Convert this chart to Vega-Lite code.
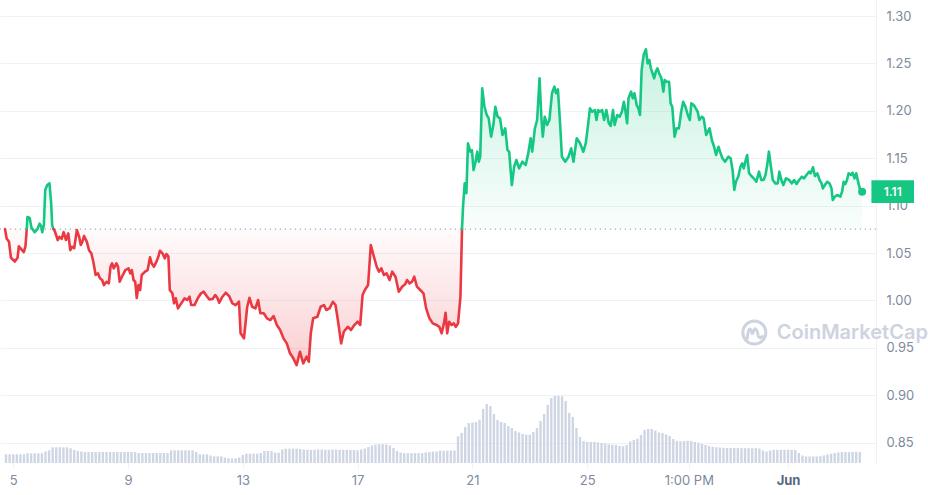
{
"$schema":"https://vega.github.io/schema/vega-lite/v6.json",
"width":876,"height":463,
"autosize":{"type":"none"},
"padding":{"left":0,"top":0,"right":52,"bottom":32},
"background":"#ffffff",
"config":{"view":{"stroke":null},"font":"Inter"},
"datasets":{
"vol":[
{"t":4.75,"v":8.7},{"t":4.875,"v":8.7},{"t":5,"v":8.7},{"t":5.125,"v":8.7},{"t":5.25,"v":8.7},{"t":5.375,"v":8.7},{"t":5.5,"v":9.7},{"t":5.625,"v":9.7},{"t":5.75,"v":9.7},{"t":5.875,"v":9.7},
{"t":6,"v":9.7},{"t":6.125,"v":11.5},{"t":6.25,"v":12.7},{"t":6.375,"v":15.7},{"t":6.5,"v":15.7},{"t":6.625,"v":15.7},{"t":6.75,"v":15.7},{"t":6.875,"v":15.7},
{"t":7,"v":14.7},{"t":7.125,"v":13},{"t":7.25,"v":12},{"t":7.375,"v":11.5},{"t":7.5,"v":11},{"t":7.625,"v":11},{"t":7.75,"v":11},{"t":7.875,"v":11},
{"t":8,"v":11},{"t":8.125,"v":11},{"t":8.25,"v":11},{"t":8.375,"v":11},{"t":8.5,"v":11},{"t":8.625,"v":11},{"t":8.75,"v":11},{"t":8.875,"v":11},
{"t":9,"v":11},{"t":9.125,"v":11},{"t":9.25,"v":11},{"t":9.375,"v":10},{"t":9.5,"v":10},{"t":9.625,"v":10},{"t":9.75,"v":10},{"t":9.875,"v":10},
{"t":10,"v":10},{"t":10.125,"v":10},{"t":10.25,"v":10},{"t":10.375,"v":10},{"t":10.5,"v":12.7},{"t":10.625,"v":12.7},{"t":10.75,"v":12.7},{"t":10.875,"v":12.7},
{"t":11,"v":12.7},{"t":11.125,"v":12.7},{"t":11.25,"v":12.7},{"t":11.375,"v":11},{"t":11.5,"v":8.7},{"t":11.625,"v":8.7},{"t":11.75,"v":8.7},{"t":11.875,"v":7.5},
{"t":12,"v":6.7},{"t":12.125,"v":6.7},{"t":12.25,"v":6.7},{"t":12.375,"v":5.5},{"t":12.5,"v":4.7},{"t":12.625,"v":4.7},{"t":12.75,"v":4.7},{"t":12.875,"v":5.5},
{"t":13,"v":8},{"t":13.125,"v":9.3},{"t":13.25,"v":9.3},{"t":13.375,"v":9.3},{"t":13.5,"v":9.3},{"t":13.625,"v":10},{"t":13.75,"v":12},{"t":13.875,"v":12},
{"t":14,"v":12},{"t":14.125,"v":10.3},{"t":14.25,"v":10.3},{"t":14.375,"v":13.5},{"t":14.5,"v":14.3},{"t":14.625,"v":14.3},{"t":14.75,"v":14.3},{"t":14.875,"v":14.3},
{"t":15,"v":14},{"t":15.125,"v":13.5},{"t":15.25,"v":13.2},{"t":15.375,"v":13.2},{"t":15.5,"v":13.2},{"t":15.625,"v":13.5},{"t":15.75,"v":13.5},{"t":15.875,"v":13.2},
{"t":16,"v":13.2},{"t":16.125,"v":13.5},{"t":16.25,"v":13.5},{"t":16.375,"v":13.2},{"t":16.5,"v":13.2},{"t":16.625,"v":13.2},{"t":16.75,"v":13},{"t":16.875,"v":13},
{"t":17,"v":12.7},{"t":17.125,"v":13.5},{"t":17.25,"v":14.5},{"t":17.375,"v":16},{"t":17.5,"v":17.5},{"t":17.625,"v":18.3},{"t":17.75,"v":18.8},{"t":17.875,"v":18.8},
{"t":18,"v":18.5},{"t":18.125,"v":17.5},{"t":18.25,"v":15},{"t":18.375,"v":12},{"t":18.5,"v":10.5},{"t":18.625,"v":9.9},{"t":18.75,"v":9.9},{"t":18.875,"v":9.9},
{"t":19,"v":9.9},{"t":19.125,"v":9.9},{"t":19.25,"v":9.9},{"t":19.375,"v":10.5},{"t":19.5,"v":11},{"t":19.625,"v":11.5},{"t":19.75,"v":11.5},{"t":19.875,"v":12.3},
{"t":20,"v":12.3},{"t":20.125,"v":12.3},{"t":20.25,"v":12.5},{"t":20.375,"v":12.5},{"t":20.5,"v":26.7},{"t":20.625,"v":30},{"t":20.75,"v":36},{"t":20.875,"v":40},
{"t":21,"v":40.5},{"t":21.125,"v":41},{"t":21.25,"v":43.3},{"t":21.375,"v":54},{"t":21.5,"v":59},{"t":21.625,"v":57},{"t":21.75,"v":49},{"t":21.875,"v":43},
{"t":22,"v":41},{"t":22.125,"v":40},{"t":22.25,"v":37},{"t":22.375,"v":35},{"t":22.5,"v":32},{"t":22.625,"v":30.5},{"t":22.75,"v":29},{"t":22.875,"v":28.3},
{"t":23,"v":28.3},{"t":23.125,"v":31},{"t":23.25,"v":35},{"t":23.375,"v":42},{"t":23.5,"v":49},{"t":23.625,"v":58},{"t":23.75,"v":65},{"t":23.875,"v":67},
{"t":24,"v":67},{"t":24.125,"v":66.7},{"t":24.25,"v":62},{"t":24.375,"v":50},{"t":24.5,"v":46},{"t":24.625,"v":35},{"t":24.75,"v":26},{"t":24.875,"v":22},
{"t":25,"v":21},{"t":25.125,"v":21},{"t":25.25,"v":21},{"t":25.375,"v":20.5},{"t":25.5,"v":20},{"t":25.625,"v":19.5},{"t":25.75,"v":18.7},{"t":25.875,"v":18.3},
{"t":26,"v":18.3},{"t":26.125,"v":17},{"t":26.25,"v":16.7},{"t":26.375,"v":18},{"t":26.5,"v":21.5},{"t":26.625,"v":23},{"t":26.75,"v":24.3},{"t":26.875,"v":28},
{"t":27,"v":33},{"t":27.125,"v":34},{"t":27.25,"v":34},{"t":27.375,"v":32.5},{"t":27.5,"v":30.5},{"t":27.625,"v":30},{"t":27.75,"v":28.5},{"t":27.875,"v":27},
{"t":28,"v":24},{"t":28.125,"v":22},{"t":28.25,"v":21.7},{"t":28.375,"v":22},{"t":28.5,"v":22.3},{"t":28.625,"v":22},{"t":28.75,"v":21},{"t":28.875,"v":20.3},
{"t":29,"v":19},{"t":29.125,"v":18},{"t":29.25,"v":17},{"t":29.375,"v":16},{"t":29.5,"v":15.7},{"t":29.625,"v":15.5},{"t":29.75,"v":15.2},{"t":29.875,"v":15},
{"t":30,"v":15},{"t":30.125,"v":15},{"t":30.25,"v":15},{"t":30.375,"v":14.8},{"t":30.5,"v":14.8},{"t":30.625,"v":14.8},{"t":30.75,"v":14.8},{"t":30.875,"v":14.8},
{"t":31,"v":14.5},{"t":31.125,"v":12.5},{"t":31.25,"v":11.5},{"t":31.375,"v":12.5},{"t":31.5,"v":13.2},{"t":31.625,"v":13.2},{"t":31.75,"v":13.2},{"t":31.875,"v":13.2},
{"t":32,"v":13.2},{"t":32.125,"v":13.2},{"t":32.25,"v":13},{"t":32.375,"v":10},{"t":32.5,"v":7.5},{"t":32.625,"v":6.6},{"t":32.75,"v":6.6},{"t":32.875,"v":6.6},
{"t":33,"v":6.6},{"t":33.125,"v":6.8},{"t":33.25,"v":7.5},{"t":33.375,"v":8.5},{"t":33.5,"v":9.2},{"t":33.625,"v":10},{"t":33.75,"v":10.5},{"t":33.875,"v":10.9},
{"t":34,"v":10.9},{"t":34.125,"v":10.9},{"t":34.25,"v":11},{"t":34.375,"v":11.2},{"t":34.5,"v":11}
],
"price":[
{"t":4.714,"p":1.0753,"s":1},{"t":4.773,"p":1.065,"s":1},{"t":4.852,"p":1.062,"s":1},{"t":4.921,"p":1.045,"s":1},{"t":5.058,"p":1.041,"s":1},{"t":5.152,"p":1.045,"s":1},{"t":5.196,"p":1.057,"s":1},{"t":5.31,"p":1.053,"s":1},{"t":5.369,"p":1.051,"s":1},{"t":5.427,"p":1.057,"s":1},{"t":5.472,"p":1.0753,"s":1},
{"t":5.472,"p":1.0753,"s":2},{"t":5.496,"p":1.088,"s":2},{"t":5.575,"p":1.087,"s":2},{"t":5.634,"p":1.077,"s":2},{"t":5.748,"p":1.072,"s":2},{"t":5.84,"p":1.075,"s":2},{"t":5.92,"p":1.081,"s":2},{"t":5.978,"p":1.078,"s":2},{"t":6.013,"p":1.072,"s":2},{"t":6.068,"p":1.0795,"s":2},{"t":6.116,"p":1.1165,"s":2},{"t":6.185,"p":1.1217,"s":2},{"t":6.264,"p":1.1235,"s":2},{"t":6.323,"p":1.1024,"s":2},{"t":6.357,"p":1.0795,"s":2},{"t":6.402,"p":1.0753,"s":2},
{"t":6.402,"p":1.0753,"s":3},{"t":6.436,"p":1.074,"s":3},{"t":6.495,"p":1.069,"s":3},{"t":6.55,"p":1.0637,"s":3},{"t":6.609,"p":1.067,"s":3},{"t":6.688,"p":1.065,"s":3},{"t":6.757,"p":1.072,"s":3},{"t":6.839,"p":1.0637,"s":3},{"t":6.919,"p":1.0707,"s":3},{"t":6.988,"p":1.053,"s":3},
{"t":7.046,"p":1.0566,"s":3},{"t":7.125,"p":1.055,"s":3},{"t":7.218,"p":1.0743,"s":3},{"t":7.298,"p":1.067,"s":3},{"t":7.356,"p":1.0584,"s":3},{"t":7.411,"p":1.062,"s":3},{"t":7.47,"p":1.068,"s":3},{"t":7.563,"p":1.062,"s":3},{"t":7.642,"p":1.053,"s":3},{"t":7.721,"p":1.0497,"s":3},
{"t":7.79,"p":1.041,"s":3},{"t":7.873,"p":1.0268,"s":3},{"t":7.952,"p":1.0286,"s":3},{"t":8.021,"p":1.0233,"s":3},{"t":8.1,"p":1.0215,"s":3},{"t":8.159,"p":1.0162,"s":3},{"t":8.252,"p":1.0197,"s":3},{"t":8.331,"p":1.018,"s":3},{"t":8.39,"p":1.0355,"s":3},{"t":8.445,"p":1.0391,"s":3},
{"t":8.503,"p":1.0338,"s":3},{"t":8.596,"p":1.0391,"s":3},{"t":8.651,"p":1.0355,"s":3},{"t":8.71,"p":1.0197,"s":3},{"t":8.789,"p":1.025,"s":3},{"t":8.906,"p":1.032,"s":3},{"t":9.02,"p":1.0338,"s":3},{"t":9.079,"p":1.0286,"s":3},{"t":9.134,"p":1.032,"s":3},{"t":9.192,"p":1.0215,"s":3},
{"t":9.251,"p":1.0197,"s":3},{"t":9.306,"p":1.0025,"s":3},{"t":9.364,"p":1.0162,"s":3},{"t":9.423,"p":1.011,"s":3},{"t":9.478,"p":1.0268,"s":3},{"t":9.595,"p":1.0303,"s":3},{"t":9.685,"p":1.032,"s":3},{"t":9.767,"p":1.0455,"s":3},{"t":9.823,"p":1.0391,"s":3},{"t":9.905,"p":1.0355,"s":3},
{"t":9.974,"p":1.0398,"s":3},{"t":10.053,"p":1.0455,"s":3},{"t":10.112,"p":1.0524,"s":3},{"t":10.202,"p":1.0497,"s":3},{"t":10.284,"p":1.0444,"s":3},{"t":10.339,"p":1.049,"s":3},{"t":10.408,"p":1.0462,"s":3},{"t":10.456,"p":1.011,"s":3},{"t":10.546,"p":1.0075,"s":3},{"t":10.604,"p":0.9969,"s":3},
{"t":10.663,"p":1.0022,"s":3},{"t":10.742,"p":0.9916,"s":3},{"t":10.856,"p":0.9969,"s":3},{"t":10.973,"p":1.0022,"s":3},{"t":11.063,"p":1.0004,"s":3},{"t":11.145,"p":1.0039,"s":3},{"t":11.2,"p":0.9951,"s":3},{"t":11.317,"p":0.9951,"s":3},{"t":11.431,"p":1.0022,"s":3},{"t":11.545,"p":1.0075,"s":3},
{"t":11.638,"p":1.0092,"s":3},{"t":11.741,"p":1.0046,"s":3},{"t":11.834,"p":1.0011,"s":3},{"t":11.948,"p":1.0015,"s":3},{"t":12.041,"p":1.0057,"s":3},{"t":12.12,"p":1.0022,"s":3},{"t":12.179,"p":0.9976,"s":3},{"t":12.292,"p":1.0039,"s":3},{"t":12.406,"p":1.0081,"s":3},{"t":12.523,"p":1.0046,"s":3},
{"t":12.637,"p":0.9969,"s":3},{"t":12.751,"p":0.9951,"s":3},{"t":12.868,"p":0.9986,"s":3},{"t":12.923,"p":0.9653,"s":3},{"t":13.04,"p":0.96,"s":3},{"t":13.154,"p":0.9933,"s":3},{"t":13.233,"p":1.0028,"s":3},{"t":13.326,"p":0.9933,"s":3},{"t":13.44,"p":0.9916,"s":3},{"t":13.533,"p":1.0004,"s":3},
{"t":13.612,"p":0.9864,"s":3},{"t":13.729,"p":0.9864,"s":3},{"t":13.843,"p":0.9811,"s":3},{"t":13.956,"p":0.9793,"s":3},{"t":14.073,"p":0.9835,"s":3},{"t":14.187,"p":0.974,"s":3},{"t":14.301,"p":0.9688,"s":3},{"t":14.418,"p":0.96,"s":3},{"t":14.532,"p":0.9547,"s":3},{"t":14.645,"p":0.9442,"s":3},
{"t":14.762,"p":0.9389,"s":3},{"t":14.876,"p":0.9318,"s":3},{"t":14.99,"p":0.9459,"s":3},{"t":15.107,"p":0.9336,"s":3},{"t":15.221,"p":0.9406,"s":3},{"t":15.3,"p":0.9353,"s":3},{"t":15.369,"p":0.9653,"s":3},{"t":15.451,"p":0.9811,"s":3},{"t":15.6,"p":0.9828,"s":3},{"t":15.713,"p":0.9933,"s":3},
{"t":15.83,"p":0.9951,"s":3},{"t":15.91,"p":0.9899,"s":3},{"t":16.023,"p":0.9916,"s":3},{"t":16.14,"p":0.9986,"s":3},{"t":16.23,"p":0.9951,"s":3},{"t":16.313,"p":0.9793,"s":3},{"t":16.426,"p":0.9547,"s":3},{"t":16.519,"p":0.967,"s":3},{"t":16.657,"p":0.9722,"s":3},{"t":16.771,"p":0.9688,"s":3},
{"t":16.885,"p":0.974,"s":3},{"t":17.002,"p":0.9775,"s":3},{"t":17.091,"p":0.974,"s":3},{"t":17.174,"p":1.0057,"s":3},{"t":17.253,"p":1.011,"s":3},{"t":17.366,"p":1.0162,"s":3},{"t":17.46,"p":1.0584,"s":3},{"t":17.553,"p":1.0479,"s":3},{"t":17.666,"p":1.0355,"s":3},{"t":17.746,"p":1.0303,"s":3},
{"t":17.828,"p":1.0338,"s":3},{"t":17.918,"p":1.0268,"s":3},{"t":18.011,"p":1.0286,"s":3},{"t":18.114,"p":1.0215,"s":3},{"t":18.207,"p":1.0303,"s":3},{"t":18.321,"p":1.025,"s":3},{"t":18.435,"p":1.0092,"s":3},{"t":18.552,"p":1.0145,"s":3},{"t":18.665,"p":1.0173,"s":3},{"t":18.724,"p":1.0215,"s":3},
{"t":18.813,"p":1.018,"s":3},{"t":18.896,"p":1.0197,"s":3},{"t":18.975,"p":1.025,"s":3},{"t":19.068,"p":1.0145,"s":3},{"t":19.182,"p":1.011,"s":3},{"t":19.296,"p":1.0075,"s":3},{"t":19.389,"p":0.9916,"s":3},{"t":19.503,"p":0.9811,"s":3},{"t":19.619,"p":0.9758,"s":3},{"t":19.757,"p":0.974,"s":3},
{"t":19.847,"p":0.9722,"s":3},{"t":19.93,"p":0.9653,"s":3},{"t":20.009,"p":0.9758,"s":3},{"t":20.067,"p":0.987,"s":3},{"t":20.122,"p":0.9653,"s":3},{"t":20.191,"p":0.9775,"s":3},{"t":20.274,"p":0.974,"s":3},{"t":20.353,"p":0.9758,"s":3},{"t":20.422,"p":0.9722,"s":3},{"t":20.501,"p":0.9758,"s":3},
{"t":20.584,"p":1.0039,"s":3},{"t":20.639,"p":1.0753,"s":3},
{"t":20.639,"p":1.0753,"s":4},{"t":20.674,"p":1.0988,"s":4},{"t":20.732,"p":1.1235,"s":4},{"t":20.791,"p":1.113,"s":4},{"t":20.846,"p":1.1657,"s":4},{"t":20.928,"p":1.1569,"s":4},{"t":20.984,"p":1.1586,"s":4},{"t":21.042,"p":1.1375,"s":4},{"t":21.111,"p":1.1463,"s":4},{"t":21.17,"p":1.1569,"s":4},
{"t":21.225,"p":1.1463,"s":4},{"t":21.273,"p":1.1516,"s":4},{"t":21.342,"p":1.2237,"s":4},{"t":21.421,"p":1.2043,"s":4},{"t":21.5,"p":1.1956,"s":4},{"t":21.569,"p":1.1921,"s":4},{"t":21.652,"p":1.1727,"s":4},{"t":21.731,"p":1.185,"s":4},{"t":21.8,"p":1.2043,"s":4},{"t":21.879,"p":1.1938,"s":4},
{"t":21.962,"p":1.1921,"s":4},{"t":22.051,"p":1.1745,"s":4},{"t":22.144,"p":1.1815,"s":4},{"t":22.223,"p":1.1586,"s":4},{"t":22.282,"p":1.1569,"s":4},{"t":22.375,"p":1.1217,"s":4},{"t":22.455,"p":1.141,"s":4},{"t":22.534,"p":1.1481,"s":4},{"t":22.627,"p":1.1393,"s":4},{"t":22.741,"p":1.1463,"s":4},
{"t":22.858,"p":1.1428,"s":4},{"t":22.947,"p":1.1551,"s":4},{"t":23.03,"p":1.171,"s":4},{"t":23.085,"p":1.1569,"s":4},{"t":23.178,"p":1.1815,"s":4},{"t":23.257,"p":1.1903,"s":4},{"t":23.34,"p":1.2343,"s":4},{"t":23.409,"p":1.1903,"s":4},{"t":23.454,"p":1.1727,"s":4},{"t":23.522,"p":1.1938,"s":4},
{"t":23.602,"p":1.185,"s":4},{"t":23.684,"p":1.1903,"s":4},{"t":23.774,"p":1.2185,"s":4},{"t":23.857,"p":1.2255,"s":4},{"t":23.912,"p":1.2185,"s":4},{"t":23.981,"p":1.2227,"s":4},{"t":24.063,"p":1.1832,"s":4},{"t":24.119,"p":1.1516,"s":4},{"t":24.236,"p":1.1463,"s":4},{"t":24.35,"p":1.1516,"s":4},
{"t":24.443,"p":1.1604,"s":4},{"t":24.522,"p":1.1463,"s":4},{"t":24.636,"p":1.171,"s":4},{"t":24.752,"p":1.1657,"s":4},{"t":24.866,"p":1.1569,"s":4},{"t":24.952,"p":1.166,"s":4},{"t":25.038,"p":1.1868,"s":4},{"t":25.097,"p":1.2026,"s":4},{"t":25.176,"p":1.199,"s":4},{"t":25.269,"p":1.2008,"s":4},
{"t":25.324,"p":1.1903,"s":4},{"t":25.383,"p":1.2008,"s":4},{"t":25.441,"p":1.199,"s":4},{"t":25.521,"p":1.2008,"s":4},{"t":25.59,"p":1.1903,"s":4},{"t":25.669,"p":1.2008,"s":4},{"t":25.752,"p":1.1868,"s":4},{"t":25.821,"p":1.184,"s":4},{"t":25.9,"p":1.2008,"s":4},{"t":25.958,"p":1.185,"s":4},
{"t":26.048,"p":1.1956,"s":4},{"t":26.131,"p":1.1938,"s":4},{"t":26.21,"p":1.199,"s":4},{"t":26.278,"p":1.2096,"s":4},{"t":26.337,"p":1.199,"s":4},{"t":26.392,"p":1.1868,"s":4},{"t":26.44,"p":1.2132,"s":4},{"t":26.53,"p":1.2202,"s":4},{"t":26.588,"p":1.2132,"s":4},{"t":26.647,"p":1.2185,"s":4},
{"t":26.726,"p":1.2061,"s":4},{"t":26.785,"p":1.2026,"s":4},{"t":26.84,"p":1.1956,"s":4},{"t":26.898,"p":1.243,"s":4},{"t":26.967,"p":1.2589,"s":4},{"t":27.047,"p":1.2649,"s":4},{"t":27.105,"p":1.2501,"s":4},{"t":27.164,"p":1.2536,"s":4},{"t":27.219,"p":1.2448,"s":4},{"t":27.277,"p":1.2396,"s":4},
{"t":27.336,"p":1.2343,"s":4},{"t":27.391,"p":1.2413,"s":4},{"t":27.449,"p":1.2448,"s":4},{"t":27.508,"p":1.2396,"s":4},{"t":27.587,"p":1.2343,"s":4},{"t":27.656,"p":1.2202,"s":4},{"t":27.701,"p":1.2325,"s":4},{"t":27.77,"p":1.2307,"s":4},{"t":27.853,"p":1.2307,"s":4},{"t":27.907,"p":1.2079,"s":4},
{"t":27.966,"p":1.2043,"s":4},{"t":28.045,"p":1.1727,"s":4},{"t":28.114,"p":1.1815,"s":4},{"t":28.197,"p":1.1815,"s":4},{"t":28.276,"p":1.199,"s":4},{"t":28.345,"p":1.2096,"s":4},{"t":28.424,"p":1.2043,"s":4},{"t":28.507,"p":1.1956,"s":4},{"t":28.576,"p":1.1903,"s":4},{"t":28.631,"p":1.2079,"s":4},
{"t":28.714,"p":1.2061,"s":4},{"t":28.783,"p":1.2026,"s":4},{"t":28.852,"p":1.199,"s":4},{"t":28.907,"p":1.1903,"s":4},{"t":29.0,"p":1.1938,"s":4},{"t":29.058,"p":1.192,"s":4},{"t":29.148,"p":1.1745,"s":4},{"t":29.206,"p":1.178,"s":4},{"t":29.265,"p":1.1815,"s":4},{"t":29.344,"p":1.1692,"s":4},
{"t":29.423,"p":1.1621,"s":4},{"t":29.492,"p":1.1534,"s":4},{"t":29.575,"p":1.1621,"s":4},{"t":29.63,"p":1.1569,"s":4},{"t":29.713,"p":1.1499,"s":4},{"t":29.802,"p":1.1463,"s":4},{"t":29.919,"p":1.1516,"s":4},{"t":29.998,"p":1.1499,"s":4},{"t":30.067,"p":1.1375,"s":4},{"t":30.126,"p":1.1165,"s":4},
{"t":30.181,"p":1.1252,"s":4},{"t":30.263,"p":1.1305,"s":4},{"t":30.343,"p":1.141,"s":4},{"t":30.401,"p":1.1446,"s":4},{"t":30.456,"p":1.1393,"s":4},{"t":30.525,"p":1.1481,"s":4},{"t":30.573,"p":1.1534,"s":4},{"t":30.642,"p":1.1341,"s":4},{"t":30.721,"p":1.1312,"s":4},{"t":30.801,"p":1.1288,"s":4},
{"t":30.894,"p":1.1252,"s":4},{"t":30.987,"p":1.1358,"s":4},{"t":31.066,"p":1.127,"s":4},{"t":31.145,"p":1.127,"s":4},{"t":31.214,"p":1.1323,"s":4},{"t":31.273,"p":1.1428,"s":4},{"t":31.332,"p":1.1569,"s":4},{"t":31.387,"p":1.1446,"s":4},{"t":31.469,"p":1.127,"s":4},{"t":31.559,"p":1.1235,"s":4},
{"t":31.641,"p":1.1235,"s":4},{"t":31.697,"p":1.1358,"s":4},{"t":31.766,"p":1.127,"s":4},{"t":31.835,"p":1.1217,"s":4},{"t":31.928,"p":1.1288,"s":4},{"t":32.041,"p":1.127,"s":4},{"t":32.134,"p":1.1235,"s":4},{"t":32.214,"p":1.127,"s":4},{"t":32.296,"p":1.1228,"s":4},{"t":32.386,"p":1.127,"s":4},
{"t":32.479,"p":1.1305,"s":4},{"t":32.558,"p":1.1288,"s":4},{"t":32.641,"p":1.1323,"s":4},{"t":32.73,"p":1.1358,"s":4},{"t":32.789,"p":1.134,"s":4},{"t":32.869,"p":1.1404,"s":4},{"t":32.938,"p":1.1312,"s":4},{"t":33.02,"p":1.1341,"s":4},{"t":33.099,"p":1.127,"s":4},{"t":33.168,"p":1.1235,"s":4},
{"t":33.213,"p":1.1182,"s":4},{"t":33.282,"p":1.1217,"s":4},{"t":33.365,"p":1.1252,"s":4},{"t":33.444,"p":1.1235,"s":4},{"t":33.513,"p":1.1182,"s":4},{"t":33.558,"p":1.1059,"s":4},{"t":33.627,"p":1.1094,"s":4},{"t":33.709,"p":1.1112,"s":4},{"t":33.823,"p":1.1094,"s":4},{"t":33.882,"p":1.1147,"s":4},
{"t":33.937,"p":1.1252,"s":4},{"t":33.996,"p":1.1228,"s":4},{"t":34.053,"p":1.127,"s":4},{"t":34.109,"p":1.1341,"s":4},{"t":34.192,"p":1.1323,"s":4},{"t":34.247,"p":1.1347,"s":4},{"t":34.316,"p":1.1288,"s":4},{"t":34.374,"p":1.1341,"s":4},{"t":34.454,"p":1.1235,"s":4},{"t":34.512,"p":1.1165,"s":4},
{"t":34.58,"p":1.1147,"s":4}
]
},
"layer":[
{
"data":{"name":"vol"},
"mark":{"type":"bar","orient":"vertical","width":2.4,"color":"#cfd6e3"},
"encoding":{
"x":{"field":"t","type":"quantitative","title":null,"scale":{"domain":[4.714,34.89],"nice":false,"zero":false},
"axis":{"values":[5,9,13,17,21,25,28.5417,32],"labelExpr":"datum.value==32?'Jun':(datum.value>28&&datum.value<29)?'1:00 PM':format(datum.value,'d')","grid":false,"domain":false,"ticks":true,"tickSize":5,"tickColor":"#eff2f5","labelPadding":6,"labelFont":"Inter","labelFontSize":13,"labelColor":{"condition":{"test":"datum.value==32","value":"#58667e"},"value":"#808a9d"},"labelFontWeight":{"condition":{"test":"datum.value==32","value":700},"value":400},"labelFlush":false,"labelOverlap":false,"title":null}},
"y":{"field":"v","type":"quantitative","stack":null,"title":null,"scale":{"domain":[0,463],"nice":false,"zero":true},"axis":null}
}
},
{
"data":{"name":"price"},
"layer":[
{
"transform":[{"filter":"datum.s==1||datum.s==3"}],
"mark":{"type":"area","color":{"gradient":"linear","x1":0,"y1":0,"x2":0,"y2":1,"stops":[{"offset":0,"color":"rgba(234,57,67,0.02)"},{"offset":1,"color":"rgba(234,57,67,0.24)"}]}},
"encoding":{
"x":{"field":"t","type":"quantitative","title":null,"scale":{"domain":[4.714,34.89],"nice":false,"zero":false}},
"y":{"field":"p","type":"quantitative","title":null,"scale":{"domain":[0.8285,1.3169],"nice":false,"zero":false},
"axis":{"orient":"right","values":[0.85,0.9,0.95,1,1.05,1.1,1.15,1.2,1.25,1.3],"format":".2f","grid":true,"gridColor":"#eff2f5","gridWidth":1,"domain":true,"domainColor":"#eff2f5","ticks":false,"labelPadding":10,"labelFont":"Inter","labelFontSize":13,"labelColor":"#808a9d","labelFlush":false,"labelOverlap":false,"title":null}},
"y2":{"datum":1.0753}
}
},
{
"transform":[{"filter":"datum.s==2||datum.s==4"}],
"mark":{"type":"area","color":{"gradient":"linear","x1":0,"y1":0,"x2":0,"y2":1,"stops":[{"offset":0,"color":"rgba(22,199,132,0.24)"},{"offset":1,"color":"rgba(22,199,132,0.02)"}]}},
"encoding":{
"x":{"field":"t","type":"quantitative","title":null},
"y":{"field":"p","type":"quantitative","title":null},
"y2":{"datum":1.0753}
}
},
{
"data":{"values":[{}]},
"mark":{"type":"rule","color":"#a3abbb","strokeWidth":1.2,"strokeDash":[1.2,3.8]},
"encoding":{"y":{"datum":1.0753,"type":"quantitative"}}
},
{
"mark":{"type":"line","strokeWidth":2.6,"strokeJoin":"round","strokeCap":"round"},
"encoding":{
"x":{"field":"t","type":"quantitative","title":null},
"y":{"field":"p","type":"quantitative","title":null},
"color":{"field":"s","type":"nominal","scale":{"domain":[1,2,3,4],"range":["#ea3943","#16c784","#ea3943","#16c784"]},"legend":null}
}
},
{
"transform":[{"filter":"datum.t==34.58"}],
"mark":{"type":"point","filled":true,"opacity":1,"size":64,"color":"#16c784"},
"encoding":{
"x":{"field":"t","type":"quantitative","title":null},
"y":{"field":"p","type":"quantitative","title":null}
}
},
{
"data":{"values":[{}]},
"mark":{"type":"point","shape":"M-1,-0.533H1V0.533H-1Z","size":1815,"filled":true,"opacity":1,"color":"#16c784","clip":false},
"encoding":{"x":{"datum":35.647,"type":"quantitative"},"y":{"datum":1.1147,"type":"quantitative"}}
},
{
"data":{"values":[{"label":"1.11"}]},
"mark":{"type":"text","color":"#ffffff","font":"Inter","fontSize":12,"fontWeight":600,"align":"center","baseline":"middle","clip":false},
"encoding":{"x":{"datum":35.647,"type":"quantitative"},"y":{"datum":1.1147,"type":"quantitative"},"text":{"field":"label"}}
},
{
"data":{"values":[{"label":"CoinMarketCap"}]},
"mark":{"type":"text","color":"#cdd3df","font":"Inter","fontSize":20,"fontWeight":600,"align":"left","baseline":"alphabetic","clip":false},
"encoding":{"x":{"datum":31.607,"type":"quantitative"},"y":{"datum":0.959,"type":"quantitative"},"text":{"field":"label"}}
},
{
"data":{"values":[{}]},
"mark":{"type":"point","shape":"circle","size":531,"filled":false,"strokeWidth":3,"opacity":1,"color":"#cdd3df"},
"encoding":{"x":{"datum":30.825,"type":"quantitative"},"y":{"datum":0.9661,"type":"quantitative"}}
},
{
"data":{"values":[{}]},
"mark":{"type":"point","shape":"M-0.55,0.45C-0.45,-0.45 -0.3,-0.45 -0.15,0.15C0,-0.45 0.15,-0.45 0.3,0.25C0.35,0.45 0.5,0.45 0.62,0.3","size":676,"filled":false,"strokeWidth":3,"strokeCap":"round","opacity":1,"color":"#cdd3df"},
"encoding":{"x":{"datum":30.825,"type":"quantitative"},"y":{"datum":0.9661,"type":"quantitative"}}
}
]
}
],
"resolve":{"scale":{"y":"independent"}}
}
